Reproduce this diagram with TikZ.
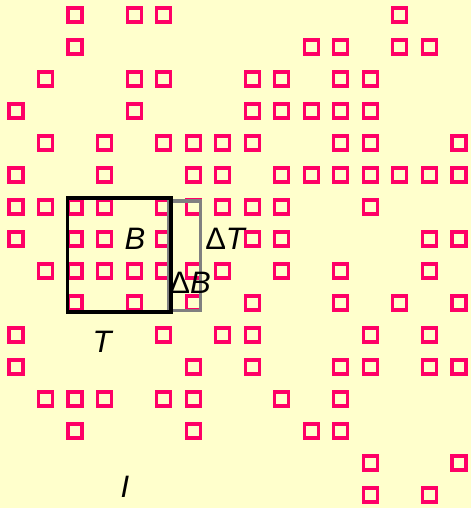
\documentclass[tikz,border=0pt]{standalone}
\usepackage{fontspec}
\setmainfont{Liberation Sans}
\definecolor{bg}{HTML}{FFFFCC}
\definecolor{sq}{HTML}{FF0066}
\definecolor{boxgray}{HTML}{808080}
\begin{document}
\begin{tikzpicture}[x=1pt,y=-1pt,
  cell/.style={draw=sq, line width=3.2pt, minimum size=14pt, inner sep=0pt},
  lbl/.style={font=\fontsize{31}{37}\selectfont, inner sep=0pt},
  bigbox/.style={draw=black, line width=3.6pt},
  smallbox/.style={draw=boxgray, line width=3.6pt}]
\fill[bg] (0,0) rectangle (471,508);
\useasboundingbox (0,0) rectangle (471,508);
\foreach \r/\cols in {
  0/{2,4,5,13},
  1/{2,10,11,13,14},
  2/{1,4,5,8,9,11,12},
  3/{0,4,8,9,10,11,12},
  4/{1,3,5,6,7,8,11,12,15},
  5/{0,3,6,7,9,10,11,12,13,14,15},
  6/{0,1,2,3,5,6,7,8,9,12},
  7/{0,2,3,5,8,9,14,15},
  8/{1,2,3,4,5,6,7,9,11,14},
  9/{2,4,6,8,11,13,15},
  10/{0,5,7,8,12,14},
  11/{0,6,8,11,12,14,15},
  12/{1,2,3,5,6,9,11},
  13/{2,6,10,11},
  14/{12,15},
  15/{12,14}} {
  \foreach \c in \cols {
    \node[cell] (s-\r-\c) at ({16+29.53*\c},{15+32*\r}) {};
  }
}
\draw[smallbox] (168.5,201) rectangle (200.5,310.5);
\draw[bigbox] (67.5,198) rectangle (171,312);
\node[lbl] (B) at (135,239) {\textit{B}};
\node[lbl] (dT) at (226,239) {Δ\textit{T}};
\node[lbl] (dB) at (190,283) {Δ\textit{B}};
\node[lbl] (T) at (103,342) {\textit{T}};
\node[lbl] (I) at (125,487) {\textit{I}};
\end{tikzpicture}
\end{document}
